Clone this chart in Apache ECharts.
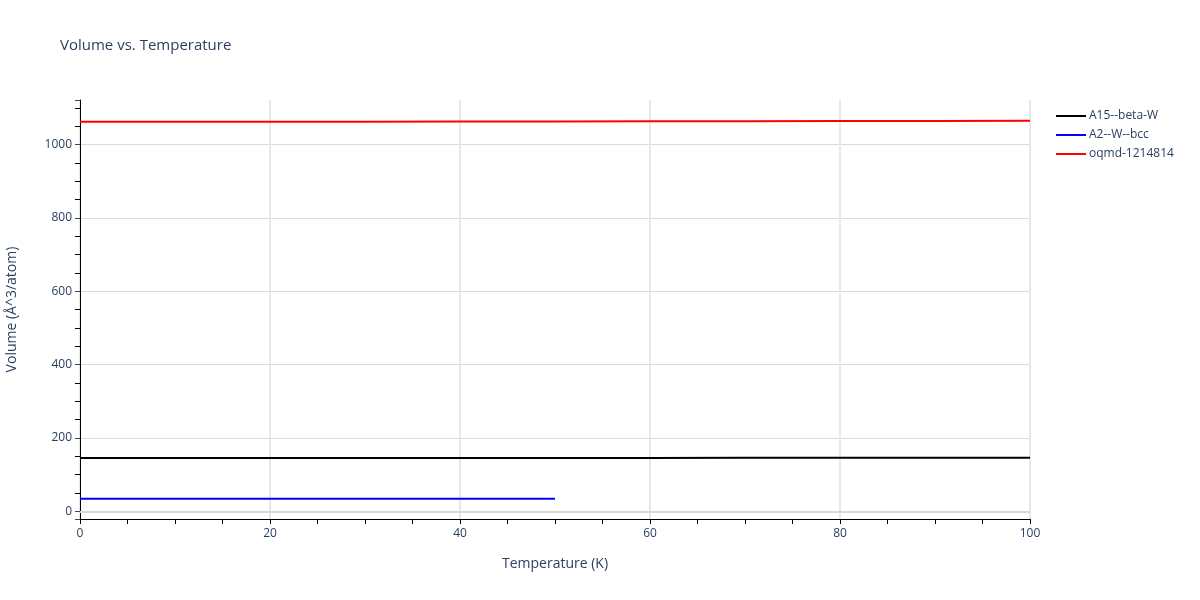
<!DOCTYPE html>
<html>
<head>
<meta charset="utf-8">
<script src="https://cdn.jsdelivr.net/npm/echarts@6/dist/echarts.min.js"></script>
<style>html,body{margin:0;padding:0;background:#fff}#c{width:1200px;height:600px}</style>
</head>
<body>
<div id="c"></div>
<script>
const seriesNames = ['A15--beta-W', 'A2--W--bcc', 'oqmd-1214814'];
const seriesColors = ['#000000', '#0000ff', '#ff0000'];
const tempA15 = [0, 10, 20, 30, 40, 50, 60, 70, 80, 90, 100];
const volA15 = [145.6, 145.6, 145.7, 145.7, 145.8, 145.9, 146.0, 146.1, 146.2, 146.3, 146.5];
const tempA2 = [0, 10, 20, 30, 40, 50];
const volA2 = [34.6, 34.6, 34.6, 34.6, 34.6, 34.7];
const tempOqmd = [0, 10, 20, 30, 40, 50, 60, 70, 80, 90, 100];
const volOqmd = [1062.5, 1062.6, 1062.8, 1063.0, 1063.3, 1063.6, 1063.9, 1064.2, 1064.6, 1065.0, 1065.4];

const txt = '#2a3f5f';
const font = '"Open Sans", Verdana, sans-serif';
const pairs = (xs, ys) => xs.map((x, i) => [x, ys[i]]);
const datasets = [pairs(tempA15, volA15), pairs(tempA2, volA2), pairs(tempOqmd, volOqmd)];

const chart = echarts.init(document.getElementById('c'), null, {renderer: 'canvas'});
chart.setOption({
  backgroundColor: '#fff',
  animation: false,
  textStyle: {fontFamily: font, color: txt},
  title: {
    text: 'Volume vs. Temperature',
    left: 55, top: 33,
    textStyle: {fontFamily: font, fontSize: 15, fontWeight: 'normal', color: txt}
  },
  legend: {
    orient: 'vertical',
    left: 1051, top: 105,
    itemWidth: 30, itemHeight: 2, itemGap: 7,
    icon: 'rect',
    textStyle: {fontFamily: font, fontSize: 12, color: txt, padding: [0, 0, 0, -2]},
    data: seriesNames
  },
  grid: {left: 80, right: 170, top: 100, bottom: 81, containLabel: false, outerBoundsMode: 'none'},
  xAxis: {
    type: 'value', min: 0, max: 100, interval: 20,
    name: 'Temperature (K)', nameLocation: 'middle', nameGap: 38,
    nameTextStyle: {fontFamily: font, fontSize: 14, color: txt},
    axisLine: {show: true, onZero: false, lineStyle: {color: '#000', width: 1}},
    axisTick: {show: true, length: 5, lineStyle: {color: '#000'}},
    minorTick: {show: true, splitNumber: 4, length: 5, lineStyle: {color: '#000'}},
    axisLabel: {fontFamily: font, fontSize: 12, color: txt, margin: 9},
    splitLine: {show: true, lineStyle: {color: '#e8e8e8', width: 2}}
  },
  yAxis: {
    type: 'value', min: -20.7, max: 1122, splitNumber: 6,
    name: 'Volume (Å^3/atom)', nameLocation: 'middle', nameGap: 61,
    nameTextStyle: {fontFamily: font, fontSize: 14, color: txt},
    axisLine: {show: true, onZero: false, lineStyle: {color: '#000', width: 1}},
    axisTick: {show: true, length: 5, lineStyle: {color: '#444'}},
    minorTick: {show: true, splitNumber: 4, length: 5, lineStyle: {color: '#000'}},
    axisLabel: {fontFamily: font, fontSize: 12, color: txt, margin: 8, showMinLabel: false, showMaxLabel: false,
      formatter: v => String(v)},
    splitLine: {show: true, showMinLine: false, showMaxLine: false, lineStyle: {color: '#dcdcdc', width: 1}}
  },
  series: seriesNames.map((n, i) => ({
    name: n, type: 'line', data: datasets[i], symbol: 'none',
    lineStyle: {color: seriesColors[i], width: 2}, itemStyle: {color: seriesColors[i]},
    z: 3,
    markLine: i === 0 ? {
      silent: true, symbol: 'none', label: {show: false},
      lineStyle: {color: '#d8d8d8', width: 2, type: 'solid'},
      data: [{yAxis: 0}], z: 1
    } : undefined
  }))
});
</script>
</body>
</html>
